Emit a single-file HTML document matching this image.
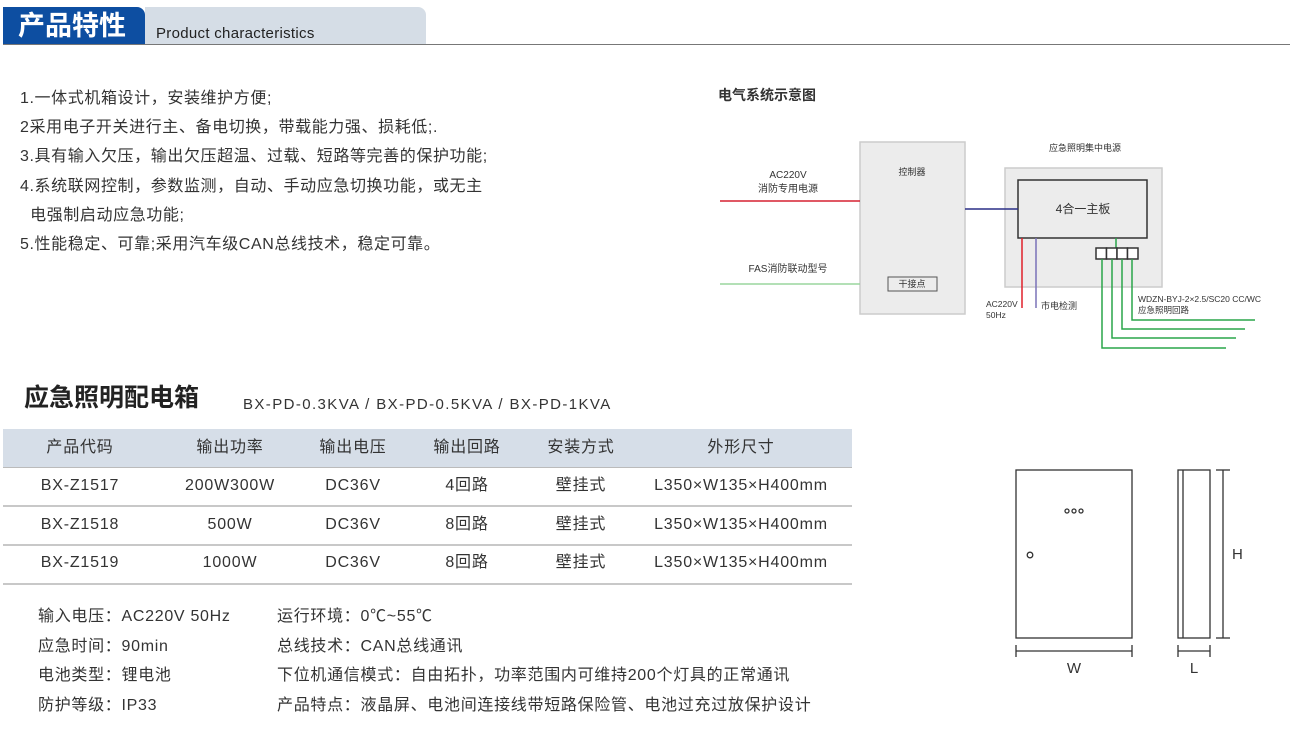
<!DOCTYPE html>
<html><head><meta charset="utf-8"><style>
body{margin:0;width:1295px;height:731px;background:#fff;position:relative;overflow:hidden;font-family:"Liberation Sans","Noto Sans CJK SC",sans-serif;color:#333}
.a{position:absolute;white-space:nowrap;line-height:20px}
.c{transform:translateX(-50%)}
</style></head><body>
<div class="a" style="left:3px;top:7px;width:142px;height:38px;background:#0d4ea1;border-top-right-radius:8px"></div>
<div class="a" style="left:145px;top:7px;width:281px;height:38px;background:#d5dde6;border-top-right-radius:8px"></div>
<div class="a" style="left:3px;top:44px;width:1287px;height:1px;background:#777"></div>
<div class="a" style="left:18px;top:10px;font-size:27px;line-height:32px;font-weight:bold;color:#fff">产品特性</div>
<div class="a" style="left:156px;top:24px;font-size:15px;color:#222;letter-spacing:0.3px">Product characteristics</div>

<div class="a" style="left:20px;top:84px;font-size:16px;line-height:29.2px;color:#333;letter-spacing:0.6px">1.一体式机箱设计，安装维护方便;<br>2采用电子开关进行主、备电切换，带载能力强、损耗低;.<br>3.具有输入欠压，输出欠压超温、过载、短路等完善的保护功能;<br>4.系统联网控制，参数监测，自动、手动应急切换功能，或无主<br>&nbsp;&nbsp;电强制启动应急功能;<br>5.性能稳定、可靠;采用汽车级CAN总线技术，稳定可靠。</div>

<div class="a" style="left:718px;top:85px;font-size:14px;font-weight:bold;color:#333">电气系统示意图</div>
<svg class="a" style="left:0;top:0" width="1295" height="731">
<rect x="860" y="142" width="105" height="172" fill="#ececec" stroke="#ccc" stroke-width="1.5"/>
<rect x="888" y="277" width="49" height="14" fill="#ececec" stroke="#555"/>
<rect x="1005" y="168" width="157" height="119" fill="#ececec" stroke="#ccc" stroke-width="1.5"/>
<rect x="1018" y="180" width="129" height="58" fill="#ececec" stroke="#333" stroke-width="1.5"/>
<line x1="720" y1="201" x2="860" y2="201" stroke="#d62030" stroke-width="1.5"/>
<line x1="720" y1="284" x2="860" y2="284" stroke="#9ad69e" stroke-width="1.5"/>
<line x1="965" y1="209" x2="1018" y2="209" stroke="#2a2f86" stroke-width="1.5"/>
<line x1="1022" y1="238" x2="1022" y2="308" stroke="#e0202a" stroke-width="1.5"/>
<line x1="1036" y1="238" x2="1036" y2="308" stroke="#7a72b8" stroke-width="1.5"/>
<line x1="1116" y1="238" x2="1116" y2="248" stroke="#2aa54a" stroke-width="1.5"/>
<g fill="#fff" stroke="#333" stroke-width="1.5"><rect x="1096" y="248" width="10.5" height="11"/><rect x="1106.5" y="248" width="10.5" height="11"/><rect x="1117" y="248" width="10.5" height="11"/><rect x="1127.5" y="248" width="10.5" height="11"/></g>
<g stroke="#2aa54a" stroke-width="1.5" fill="none">
<polyline points="1132,259 1132,320 1255,320"/><polyline points="1122,259 1122,329 1245,329"/><polyline points="1112,259 1112,338 1236,338"/><polyline points="1102,259 1102,348 1226,348"/></g>
<g stroke="#333" stroke-width="1.3" fill="none">
<rect x="1016" y="470" width="116" height="168"/>
<circle cx="1067" cy="511" r="2"/><circle cx="1074" cy="511" r="2"/><circle cx="1081" cy="511" r="2"/>
<circle cx="1030" cy="555" r="2.8"/>
<rect x="1178" y="470" width="32" height="168"/><line x1="1183" y1="470" x2="1183" y2="638"/>
<line x1="1223" y1="470" x2="1223" y2="638"/><line x1="1216" y1="470" x2="1230" y2="470"/><line x1="1216" y1="638" x2="1230" y2="638"/>
<line x1="1016" y1="651" x2="1132" y2="651"/><line x1="1016" y1="645" x2="1016" y2="657"/><line x1="1132" y1="645" x2="1132" y2="657"/>
<line x1="1178" y1="651" x2="1210" y2="651"/><line x1="1178" y1="645" x2="1178" y2="657"/><line x1="1210" y1="645" x2="1210" y2="657"/>
</g>
</svg>
<div class="a c" style="left:912px;top:162px;font-size:9px">控制器</div>
<div class="a c" style="left:912px;top:274px;font-size:9px">干接点</div>
<div class="a c" style="left:788px;top:166px;font-size:10px">AC220V</div>
<div class="a c" style="left:788px;top:180px;font-size:10px">消防专用电源</div>
<div class="a c" style="left:788px;top:260px;font-size:10px">FAS消防联动型号</div>
<div class="a c" style="left:1085px;top:138px;font-size:9px">应急照明集中电源</div>
<div class="a c" style="left:1083px;top:199px;font-size:12px">4合一主板</div>
<div class="a" style="left:986px;top:299px;font-size:8.5px;line-height:11px">AC220V<br>50Hz</div>
<div class="a" style="left:1041px;top:296px;font-size:9px">市电检测</div>
<div class="a" style="left:1138px;top:294px;font-size:8.5px;line-height:11px">WDZN-BYJ-2×2.5/SC20 CC/WC<br>应急照明回路</div>

<div class="a" style="left:24px;top:382px;font-size:25px;line-height:32px;font-weight:bold;color:#222">应急照明配电箱</div>
<div class="a" style="left:243px;top:395px;font-size:15px;color:#333;letter-spacing:1.4px">BX-PD-0.3KVA / BX-PD-0.5KVA / BX-PD-1KVA</div>
<div class="a" style="left:3px;top:429px;width:849px;height:38px;background:#d6dee8"></div>
<div class="a" style="left:3px;top:467px;width:849px;height:1px;background:#bbb"></div>
<div class="a" style="left:3px;top:505px;width:849px;height:1.5px;background:#c8c8c8"></div>
<div class="a" style="left:3px;top:544px;width:849px;height:1.5px;background:#c8c8c8"></div>
<div class="a" style="left:3px;top:583px;width:849px;height:1.5px;background:#c8c8c8"></div>
<div style="font-size:16px;color:#333;letter-spacing:0.8px">
<div class="a c" style="left:80px;top:438px">产品代码</div><div class="a c" style="left:230px;top:438px">输出功率</div><div class="a c" style="left:353px;top:438px">输出电压</div><div class="a c" style="left:467px;top:438px">输出回路</div><div class="a c" style="left:581px;top:438px">安装方式</div><div class="a c" style="left:741px;top:438px">外形尺寸</div>
<div class="a c" style="left:80px;top:476px">BX-Z1517</div><div class="a c" style="left:230px;top:476px">200W300W</div><div class="a c" style="left:353px;top:476px">DC36V</div><div class="a c" style="left:467px;top:476px">4回路</div><div class="a c" style="left:581px;top:476px">壁挂式</div><div class="a c" style="left:741px;top:476px">L350×W135×H400mm</div>
<div class="a c" style="left:80px;top:515px">BX-Z1518</div><div class="a c" style="left:230px;top:515px">500W</div><div class="a c" style="left:353px;top:515px">DC36V</div><div class="a c" style="left:467px;top:515px">8回路</div><div class="a c" style="left:581px;top:515px">壁挂式</div><div class="a c" style="left:741px;top:515px">L350×W135×H400mm</div>
<div class="a c" style="left:80px;top:553px">BX-Z1519</div><div class="a c" style="left:230px;top:553px">1000W</div><div class="a c" style="left:353px;top:553px">DC36V</div><div class="a c" style="left:467px;top:553px">8回路</div><div class="a c" style="left:581px;top:553px">壁挂式</div><div class="a c" style="left:741px;top:553px">L350×W135×H400mm</div>
</div>
<div class="a" style="left:38px;top:602px;font-size:16px;line-height:29.5px;letter-spacing:0.7px">输入电压：AC220V 50Hz<br>应急时间：90min<br>电池类型：锂电池<br>防护等级：IP33</div>
<div class="a" style="left:277px;top:602px;font-size:16px;line-height:29.5px;letter-spacing:0.7px">运行环境：0℃~55℃<br>总线技术：CAN总线通讯<br>下位机通信模式：自由拓扑，功率范围内可维持200个灯具的正常通讯<br>产品特点：液晶屏、电池间连接线带短路保险管、电池过充过放保护设计</div>
<div class="a c" style="left:1074px;top:659px;font-size:15px">W</div>
<div class="a c" style="left:1194px;top:659px;font-size:15px">L</div>
<div class="a" style="left:1232px;top:545px;font-size:15px">H</div>
</body></html>
